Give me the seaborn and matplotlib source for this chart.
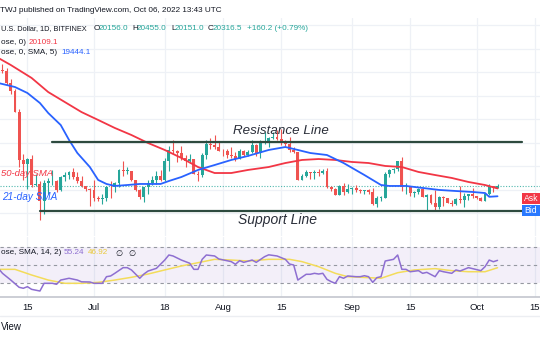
import numpy as np
import pandas as pd
import matplotlib
matplotlib.use("Agg")
import matplotlib.pyplot as plt
import matplotlib.dates as mdates
from matplotlib.patches import Rectangle
from matplotlib.lines import Line2D
import seaborn as sns

sns.set_theme(style="white")
plt.rcParams['font.family'] = ['Liberation Sans', 'DejaVu Sans']

# ---------------- data ----------------
candle_start = "2022-06-08"
candle_end = "2022-10-06"
opens = [31150, 30200, 30100, 29100, 28400, 26600, 22500, 22200, 22600, 20400,
         20450, 19000, 20550, 20700, 20750, 19950, 21100, 21250, 21500, 21050,
         20750, 20280, 20100,
         19950, 19300, 19250, 19300, 20250, 20200, 20550, 21650, 21600, 21600,
         20850, 19950, 19350, 20250, 20600, 20850, 21200, 20800, 22450, 23400,
         23250, 23150, 22700, 22450, 22600, 21300, 21250, 22950, 23850, 23800,
         23650,
         23300, 23250, 22950, 22850, 22650, 23300, 22950, 23200, 23800, 23150,
         23950, 23950, 24400, 24450, 24300, 24100, 23850, 23350, 23200, 20850,
         21150, 21500, 21400, 21500, 21400, 21550, 20250, 20050, 19550, 20300,
         19800,
         20050, 20150, 19950, 19850, 20000, 19800, 18800, 19300, 19320, 21350,
         21650, 21800, 22400, 20200, 20250, 19700, 19800, 20100, 19400, 19550,
         18900, 18500, 19400, 19300, 18900, 18800, 19200, 19100, 19450, 19600,
         19450, 19300, 19050, 19650, 20350, 20156]
highs = [31600, 30650, 30350, 29400, 28550, 26900, 23000, 22700, 22950, 21350,
         20750, 20800, 21000, 21700, 20850, 21200, 21500, 21600, 21850, 21500,
         21200, 20350, 20150,
         20800, 19450, 19650, 20300, 20700, 20650, 21800, 22450, 21950, 21600,
         20850, 20050, 20250, 20850, 21150, 21550, 21650, 22700, 23750, 24250,
         23400, 23750, 22950, 23000, 22650, 21550, 23100, 24200, 24400, 24650,
         24150,
         23450, 23450, 23600, 23200, 23450, 23350, 23400, 24200, 23900, 24200,
         24900, 24450, 24900, 25050, 25200, 24250, 24450, 23600, 23200, 21350,
         21700, 21500, 21650, 21800, 21800, 21850, 20350, 20150, 20400, 20550,
         20450,
         20200, 20400, 20050, 20000, 20050, 20150, 19450, 19450, 21500, 21800,
         21850, 22450, 22800, 20550, 20350, 19900, 20150, 20100, 19650, 19600,
         19950, 19500, 19500, 19300, 19150, 19300, 20350, 19750, 19650, 20150,
         19500, 19400, 19700, 20450, 20350, 20455]
lows = [29900, 29950, 28900, 28100, 26600, 21950, 20850, 20100, 20250, 20300,
        17400, 17950, 19650, 20400, 19800, 19900, 20750, 20950, 20950, 20550,
        20200, 19850, 18650,
        19000, 19000, 18800, 19050, 19300, 19800, 20250, 21200, 21350, 20700,
        19900, 19250, 18950, 19650, 20400, 20500, 20750, 20750, 21600, 23000,
        22350, 22500, 21950, 22300, 21300, 20700, 21050, 22600, 23450, 23500,
        23250,
        22850, 22700, 22700, 22450, 22600, 22900, 22850, 23150, 22900, 22700,
        23850, 23650, 24300, 24250, 23800, 23700, 23200, 23100, 20800, 20800,
        21100, 20900, 20900, 21200, 21350, 20150, 19850, 19550, 19550, 19550,
        19750,
        19650, 19800, 19700, 19600, 19650, 18700, 18550, 19050, 19300, 21100,
        21400, 21550, 19900, 19650, 19500, 19350, 19650, 19350, 18300, 18800,
        18150, 18400, 18600, 18850, 18650, 18700, 18850, 18500, 19100, 19300,
        19200, 19000, 19000, 19550, 19800, 20151]
closes = [30200, 30100, 29100, 28400, 26600, 22500, 22200, 22600, 20400, 20450,
          19000, 20550, 20700, 20750, 19950, 21100, 21250, 21500, 21050, 20750,
          20280, 20100, 19950,
          19300, 19250, 19300, 20250, 20200, 20550, 21650, 21600, 21600, 20850,
          19950, 19350, 20250, 20600, 20850, 21200, 20800, 22450, 23400, 23250,
          23150, 22700, 22450, 22600, 21300, 21250, 22950, 23850, 23800, 23650,
          23300,
          23250, 22950, 22850, 22650, 23300, 22950, 23200, 23800, 23150, 23950,
          23950, 24400, 24450, 24300, 24100, 23850, 23350, 23200, 20850, 21150,
          21500, 21400, 21500, 21400, 21550, 20250, 20050, 19550, 20300, 19800,
          20050,
          20150, 19950, 19850, 20000, 19800, 18800, 19300, 19320, 21350, 21650,
          21800, 22400, 20200, 20250, 19700, 19800, 20100, 19400, 19550, 18900,
          18500, 19400, 19300, 18900, 18800, 19200, 19100, 19450, 19600, 19450,
          19300, 19050, 19650, 20350, 20156, 20316.5]

sma50_dates = ["2022-06-08", "2022-06-11", "2022-06-16", "2022-06-20", "2022-06-24",
               "2022-06-28", "2022-07-02", "2022-07-06", "2022-07-10", "2022-07-14",
               "2022-07-18", "2022-07-22", "2022-07-26", "2022-07-30", "2022-08-03",
               "2022-08-07", "2022-08-12", "2022-08-16", "2022-08-20", "2022-08-24",
               "2022-08-28", "2022-09-01", "2022-09-05", "2022-09-09", "2022-09-13",
               "2022-09-17", "2022-09-21", "2022-09-25", "2022-09-29", "2022-10-03",
               "2022-10-06"]
sma50_values = [31200, 30600, 29500, 28300, 27450, 26600, 25930, 25250, 24650, 23970,
                23380, 22700, 21930, 21420, 21420, 21680, 21930, 22270, 22530, 22610,
                22530, 22360, 22270, 22020, 21930, 21510, 21250, 21000, 20660, 20400,
                20109.1]

sma21_dates = ["2022-06-08", "2022-06-12", "2022-06-15", "2022-06-18", "2022-06-20",
               "2022-06-23", "2022-06-25", "2022-06-27", "2022-06-30", "2022-07-02",
               "2022-07-04", "2022-07-06", "2022-07-09", "2022-07-12", "2022-07-17",
               "2022-07-19", "2022-07-22", "2022-07-26", "2022-07-30", "2022-08-03",
               "2022-08-07", "2022-08-12", "2022-08-16", "2022-08-19", "2022-08-22",
               "2022-08-26", "2022-08-30", "2022-09-04", "2022-09-08", "2022-09-10",
               "2022-09-14", "2022-09-18", "2022-09-22", "2022-09-26", "2022-09-30",
               "2022-10-03", "2022-10-04", "2022-10-06"]
sma21_values = [29070, 28730, 28220, 27370, 26520, 25500, 24230, 23120, 21930, 20830,
                20490, 20320, 20400, 20490, 20490, 20740, 21080, 21680, 22100, 22530,
                22870, 23380, 23630, 23380, 23120, 22950, 22270, 21250, 20400, 20320,
                20320, 20150, 19980, 19890, 19810, 19720, 19400, 19444.1]

rsi_dates = ["2022-06-08", "2022-06-09", "2022-06-11", "2022-06-13", "2022-06-14",
             "2022-06-15", "2022-06-16", "2022-06-18", "2022-06-19", "2022-06-21",
             "2022-06-22", "2022-06-23", "2022-06-25", "2022-06-27", "2022-06-28",
             "2022-06-30", "2022-07-01", "2022-07-03", "2022-07-04", "2022-07-05",
             "2022-07-06", "2022-07-08", "2022-07-09", "2022-07-10", "2022-07-12",
             "2022-07-13", "2022-07-14", "2022-07-16", "2022-07-18", "2022-07-19",
             "2022-07-20", "2022-07-22", "2022-07-24", "2022-07-25", "2022-07-26",
             "2022-07-27", "2022-07-28", "2022-07-30", "2022-07-31", "2022-08-03",
             "2022-08-04", "2022-08-05", "2022-08-06", "2022-08-08", "2022-08-09",
             "2022-08-11", "2022-08-12", "2022-08-14", "2022-08-16", "2022-08-17",
             "2022-08-18", "2022-08-19", "2022-08-21", "2022-08-22", "2022-08-23",
             "2022-08-24", "2022-08-25", "2022-08-26", "2022-08-27", "2022-08-28",
             "2022-08-29", "2022-08-30", "2022-08-31", "2022-09-02", "2022-09-03",
             "2022-09-04", "2022-09-05", "2022-09-06", "2022-09-07", "2022-09-08",
             "2022-09-09", "2022-09-11", "2022-09-12", "2022-09-13", "2022-09-14",
             "2022-09-15", "2022-09-17", "2022-09-18", "2022-09-19", "2022-09-21",
             "2022-09-22", "2022-09-23", "2022-09-25", "2022-09-26", "2022-09-27",
             "2022-09-29", "2022-09-30", "2022-10-02", "2022-10-03", "2022-10-04",
             "2022-10-05", "2022-10-06"]
rsi_values = [46.3, 40.6, 33.0, 24.8, 23.7, 25.5, 22.5, 20.6, 29.3, 29.3,
              28.2, 33.0, 35.0, 33.0, 31.0, 30.8, 29.3, 29.3, 36.8, 37.6,
              40.6, 47.0, 47.0, 44.4, 35.0, 39.8, 43.2, 46.2, 55.6, 61.3,
              60.2, 55.6, 52.0, 45.1, 45.1, 56.4, 61.3, 60.2, 56.8, 53.8,
              50.8, 54.9, 53.0, 55.6, 53.0, 59.4, 61.5, 60.2, 56.4, 51.1,
              50.0, 33.0, 39.5, 39.5, 40.6, 39.8, 40.6, 33.8, 31.2, 29.3,
              36.8, 35.0, 37.6, 36.8, 36.8, 37.9, 36.8, 30.4, 35.7, 36.8,
              54.5, 56.4, 61.3, 45.1, 45.1, 42.4, 43.6, 40.6, 41.7, 36.8,
              43.6, 42.4, 40.6, 44.4, 43.2, 47.0, 45.9, 43.6, 48.1, 55.6,
              53.7, 55.24]

rsi_ma_dates = ["2022-06-08", "2022-06-12", "2022-06-16", "2022-06-20", "2022-06-24",
                "2022-06-28", "2022-07-02", "2022-07-06", "2022-07-10", "2022-07-14",
                "2022-07-18", "2022-07-22", "2022-07-26", "2022-07-30", "2022-08-03",
                "2022-08-07", "2022-08-12", "2022-08-17", "2022-08-20", "2022-08-24",
                "2022-08-28", "2022-08-31", "2022-09-05", "2022-09-08", "2022-09-12",
                "2022-09-16", "2022-09-21", "2022-09-25", "2022-09-29", "2022-10-03",
                "2022-10-06"]
rsi_ma_values = [45.1, 45.1, 38.7, 33.0, 29.3, 29.3, 30.4, 33.0, 36.1, 39.8,
                 44.4, 48.9, 52.6, 56.4, 55.6, 54.5, 56.4, 56.4, 53.8, 48.1,
                 40.6, 36.8, 35.7, 35.0, 41.3, 44.4, 45.9, 43.6, 42.4, 42.4,
                 46.92]

resistance_level = 24050
resistance_span = ["2022-06-21", "2022-10-12"]
support_level = 18150
support_span = ["2022-06-18", "2022-10-25"]
last_close = 20316.5

tick_dates = ["2022-06-15", "2022-07-01", "2022-07-18", "2022-08-01", "2022-08-15",
              "2022-09-01", "2022-09-15", "2022-10-01", "2022-10-15"]
tick_labels = ["15", "Jul", "18", "Aug", "15", "Sep", "15", "Oct", "15"]

# ---------------- colours ----------------
UP, DOWN = "#26a69a", "#ef5350"
RED, BLUE = "#f23645", "#2962ff"
PURPLE, YELLOW = "#8e6fd1", "#f3dc5a"
TXT = "#131722"
LVL = "#2d4a3e"
GRID = "#eef1f6"

# ---------------- figure / layout ----------------
W, H = 540, 340
fig = plt.figure(figsize=(W / 100, H / 100), dpi=100)
fig.patch.set_facecolor("white")


def rect(x0, y0, x1, y1):
    return [x0 / W, 1 - y1 / H, (x1 - x0) / W, (y1 - y0) / H]


def fx(x):
    return x / W


def fy(y):
    return 1 - y / H


ax = fig.add_axes(rect(0, 18, W, 236))
rax = fig.add_axes(rect(0, 237, W, 297))

d2n = lambda s: mdates.date2num(pd.to_datetime(s))
jul1 = d2n("2022-07-01")
px_per_day = 4.16
xlim = (jul1 - 94 / px_per_day, jul1 + (W - 94) / px_per_day)
px_per_usd = 1 / 85.0
main_ylim = (last_close - 50 / px_per_usd, last_close + 168 / px_per_usd)

for a in (ax, rax):
    a.set_facecolor("white")
    a.set_xlim(*xlim)
    for s in a.spines.values():
        s.set_visible(False)
    a.set_yticks([])
    for d in tick_dates:
        a.axvline(d2n(d), color=GRID, lw=0.9, zorder=0)

ax.set_ylim(*main_ylim)
ax.set_xticks([])
for lvl in range(18000, 36000, 2000):
    ax.axhline(lvl, color=GRID, lw=0.9, zorder=0)

# candles
cx = d2n(pd.date_range(candle_start, candle_end, freq="D"))
o = np.array(opens, float)
h = np.array(highs, float)
l = np.array(lows, float)
c = np.array(closes, float)
cols = np.where(c >= o, UP, DOWN)
ax.vlines(cx, l, h, colors=cols, lw=0.8, zorder=3)
body = np.maximum(np.abs(c - o), 60)
ax.bar(cx, body, bottom=np.minimum(o, c), width=0.7, color=cols, lw=0, zorder=4)

# moving averages via seaborn
sma50 = pd.DataFrame({"x": d2n(sma50_dates), "y": sma50_values})
sma21 = pd.DataFrame({"x": d2n(sma21_dates), "y": sma21_values})
sns.lineplot(data=sma50, x="x", y="y", ax=ax, color=RED, lw=1.3, zorder=5)
sns.lineplot(data=sma21, x="x", y="y", ax=ax, color=BLUE, lw=1.3, zorder=5)
ax.set_xlabel("")
ax.set_ylabel("")

# level lines
ax.plot(d2n(resistance_span), [resistance_level] * 2, color=LVL, lw=1.6, zorder=6)
ax.plot(d2n(support_span), [support_level] * 2, color=LVL, lw=1.6, zorder=6)
ax.axhline(last_close, color=UP, lw=0.8, ls=(0, (1, 1.5)), zorder=2, alpha=0.8)

# RSI pane
rax.set_ylim(30 - (297 - 282.7) / 0.885, 70 + (247.3 - 237) / 0.885)
rax.axhspan(30, 70, color="#7e57c2", alpha=0.09, lw=0, zorder=1)
for lv in (70, 50, 30):
    rax.axhline(lv, color="#9598a1", lw=0.8, ls=(0, (3, 3)), zorder=2)
rsi_df = pd.DataFrame({"x": d2n(rsi_dates), "y": rsi_values})
rma_df = pd.DataFrame({"x": d2n(rsi_ma_dates), "y": rsi_ma_values})
sns.lineplot(data=rma_df, x="x", y="y", ax=rax, color=YELLOW, lw=1.1, zorder=3)
sns.lineplot(data=rsi_df, x="x", y="y", ax=rax, color=PURPLE, lw=1.1, zorder=4)
rax.set_xlabel("")
rax.set_ylabel("")
rax.spines["bottom"].set_visible(True)
rax.spines["bottom"].set_color("#c3c6ce")
rax.spines["bottom"].set_linewidth(1.2)
rax.set_xticks(d2n(tick_dates))
rax.set_xticklabels(tick_labels, fontsize=6.8, color=TXT)
rax.tick_params(axis="x", length=0, pad=4)

# ---------------- texts ----------------
renderer = fig.canvas.get_renderer()


def fit(t, width):
    bb = t.get_window_extent(renderer=renderer)
    t.set_fontsize(t.get_fontsize() * width / bb.width)
    return t


def txt(x, y, s, color=TXT, size=6.0, **kw):
    return fig.text(fx(x), fy(y), s, color=color, fontsize=size, ha="left",
                    va="center", **kw)


head = fit(txt(0, 10, "TWJ published on TradingView.com, Oct 06, 2022 13:43 UTC",
               size=10), 223)
hs = head.get_fontsize()

fit(txt(1, 29, "U.S. Dollar, 1D, BITFINEX", size=10), 86)
for lx, lab, vx, val in [(94, "O", 99, "20156.0"), (132, "H", 137, "20455.0"),
                         (171, "L", 175, "20151.0"), (208, "C", 213, "20316.5")]:
    txt(lx, 29, lab, size=hs)
    txt(vx, 29, val, color=UP, size=hs)
txt(247, 29, "+160.2 (+0.79%)", color=UP, size=hs)
txt(1, 42, "ose, 0)", size=hs)
txt(29, 42, "20109.1", color=RED, size=hs)
txt(1, 53, "ose, 0, SMA, 5)", size=hs)
txt(61, 53, "19444.1", color=BLUE, size=hs)

txt(1, 253, "ose, SMA, 14, 2)", size=hs)
txt(64, 253, "55.24", color=PURPLE, size=hs)
txt(88, 253, "46.92", color="#e9c93a", size=hs)
txt(115, 253, "\u2205", size=hs, family=["DejaVu Sans"])
txt(128, 253, "\u2205", size=hs, family=["DejaVu Sans"])

fit(txt(233, 131, "Resistance Line", color="#2a2e39", size=10, style="italic"), 96)
fit(txt(238, 220, "Support Line", color="#2a2e39", size=10, style="italic"), 79)
fit(txt(1, 173, "50-day SMA", color=RED, size=10, style="italic"), 52)
fit(txt(2, 197, "21-day SMA", color=BLUE, size=10, style="italic"), 55)

txt(1, 327, "View", size=7)
fig.add_artist(Line2D([0, 1], [fy(316), fy(316)], color="#eceef2", lw=1,
                      transform=fig.transFigure))

# Ask / Bid tags
for y0, y1, col, lab in [(193, 204, "#f23645", "Ask"), (205, 216, "#2979ff", "Bid")]:
    fig.add_artist(Rectangle((fx(522), fy(y1)), 18 / W, (y1 - y0) / H,
                             transform=fig.transFigure, color=col, lw=0))
    fig.text(fx(531), fy((y0 + y1) / 2), lab, color="white", fontsize=6.2,
             ha="center", va="center")

fig.savefig("out.png", dpi=100, facecolor="white")
